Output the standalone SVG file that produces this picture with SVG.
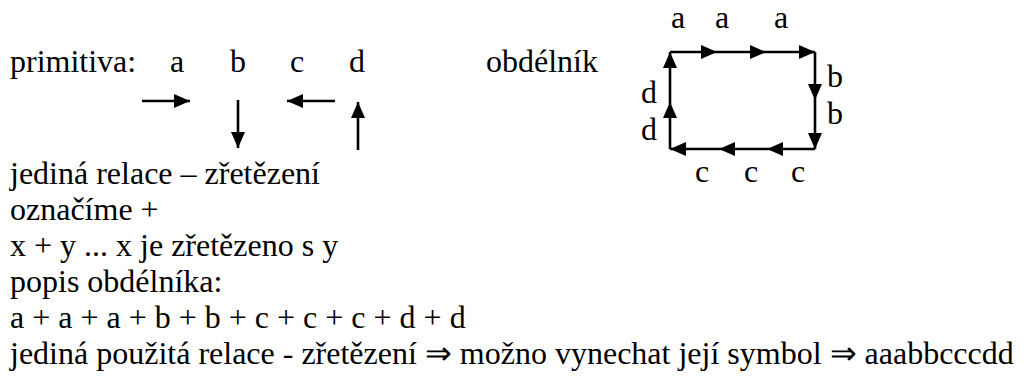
<svg xmlns="http://www.w3.org/2000/svg" width="1032" height="376" viewBox="0 0 1032 376" font-family="'Liberation Serif', 'Times New Roman', serif" font-size="32">
  <style>
    .lbl { text-anchor: middle; }
    .arr { stroke: #000; stroke-width: 2.6; fill: none; marker-end: url(#head); }
  </style>
  <defs>
    <marker id="head" markerUnits="userSpaceOnUse" markerWidth="18" markerHeight="16" refX="16" refY="7" orient="auto">
      <path d="M0,0 L16,7 L0,14 Z" fill="#000"/>
    </marker>
  </defs>
  <rect width="1032" height="376" fill="#fff"/>

  <!-- primitives row -->
  <g id="primitives">
    <text x="10" y="72">primitiva:</text>
    <text x="170" y="72">a</text>
    <text x="230" y="72">b</text>
    <text x="290" y="72">c</text>
    <text x="349" y="72">d</text>
  </g>
  <g id="title-rect">
    <text x="486" y="72">obdélník</text>
  </g>

  <!-- rectangle side labels -->
  <g id="rect-labels">
    <text class="lbl" x="678" y="28">a</text>
    <text class="lbl" x="722" y="28">a</text>
    <text class="lbl" x="781" y="28">a</text>
    <text class="lbl" x="835" y="87">b</text>
    <text class="lbl" x="835" y="124">b</text>
    <text class="lbl" x="702" y="182">c</text>
    <text class="lbl" x="751" y="182">c</text>
    <text class="lbl" x="798" y="182">c</text>
    <text class="lbl" x="649" y="103">d</text>
    <text class="lbl" x="649" y="140">d</text>
  </g>

  <g id="connectors">
    <!-- primitive arrows a, b, c, d -->
    <path class="arr" d="M142,101 H190"/>
    <path class="arr" d="M238,100 V148"/>
    <path class="arr" d="M335,101 H287"/>
    <path class="arr" d="M358,150 V102"/>
    <!-- rectangle: a a a -->
    <path class="arr" d="M670,52 H717"/>
    <path class="arr" d="M717,52 H766"/>
    <path class="arr" d="M766,52 H815"/>
    <!-- b b -->
    <path class="arr" d="M815,52 V100"/>
    <path class="arr" d="M815,100 V149"/>
    <!-- c c c -->
    <path class="arr" d="M815,149 H767"/>
    <path class="arr" d="M767,149 H719"/>
    <path class="arr" d="M719,149 H670"/>
    <!-- d d -->
    <path class="arr" d="M670,149 V102"/>
    <path class="arr" d="M670,102 V52"/>
  </g>

  <!-- description text -->
  <g id="description">
    <text x="10" y="184">jediná relace – zřetězení</text>
    <text x="10" y="220">označíme +</text>
    <text x="10" y="256">x + y ... x je zřetězeno s y</text>
    <text x="10" y="292">popis obdélníka:</text>
    <text x="10" y="328">a + a + a + b + b + c + c + c + d + d</text>
    <text x="10" y="364">jediná použitá relace - zřetězení ⇒ možno vynechat její symbol ⇒ aaabbcccdd</text>
  </g>
</svg>
